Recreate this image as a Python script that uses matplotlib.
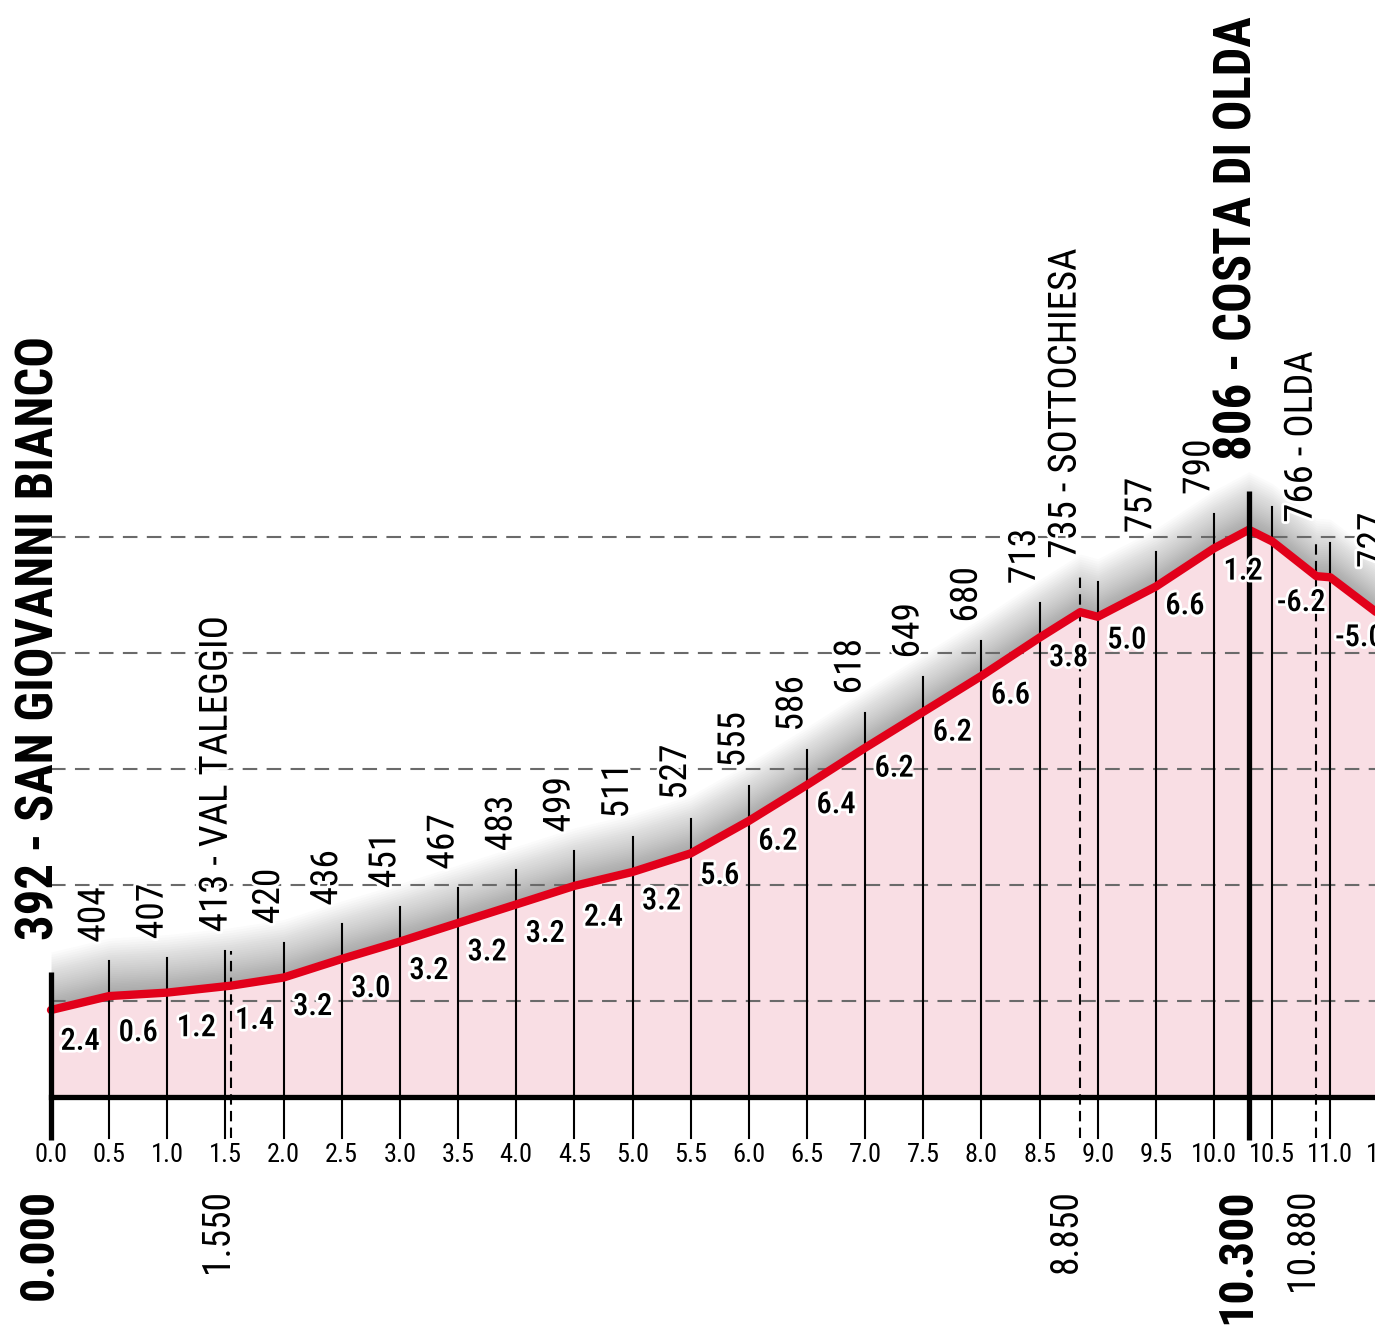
import matplotlib
matplotlib.use("Agg")
import matplotlib.pyplot as plt
import matplotlib.patheffects as pe
import numpy as np

# profile points (km, m)
dist = [0.0, 0.5, 1.0, 1.55, 2.0, 2.5, 3.0, 3.5, 4.0, 4.5, 5.0, 5.5, 6.0, 6.5,
        7.0, 7.5, 8.0, 8.5, 8.85, 9.0, 9.5, 10.0, 10.3, 10.5, 10.88, 11.0, 11.5]
elev = [392, 404, 407, 413, 420, 436, 451, 467, 483, 499, 511, 527, 555, 586,
        618, 649, 680, 713, 735, 731, 757, 790, 806, 796, 766, 765, 727]

# kilometre marks with their printed altitude ('' = not printed)
marks = [0.5, 1.0, 1.5, 2.0, 2.5, 3.0, 3.5, 4.0, 4.5, 5.0, 5.5, 6.0, 6.5, 7.0,
         7.5, 8.0, 8.5, 9.0, 9.5, 10.0, 10.5, 11.0, 11.5]
mark_labels = ["404", "407", "", "420", "436", "451", "467", "483", "499", "511",
               "527", "555", "586", "618", "649", "680", "713", "", "757", "790",
               "", "", "727"]

# gradients per half kilometre
slopes = [2.4, 0.6, 1.2, 1.4, 3.2, 3.0, 3.2, 3.2, 3.2, 2.4, 3.2, 5.6, 6.2, 6.4,
          6.2, 6.2, 6.6, 3.8, 5.0, 6.6, 1.2, -6.2, -5.0]

# named places
places_km = [0.0, 1.55, 8.85, 10.3, 10.88]
places_alt = [392, 413, 735, 806, 766]
places_name = ["SAN GIOVANNI BIANCO", "VAL TALEGGIO", "SOTTOCHIESA",
               "COSTA DI OLDA", "OLDA"]
places_dist = ["0.000", "1.550", "8.850", "10.300", "10.880"]
places_main = [True, False, False, True, False]

grid_alt = [400, 500, 600, 700, 800]
tick_km = np.arange(0, 11.51, 0.5)

FONT = ["Roboto Condensed", "Barlow Condensed", "Archivo Narrow", "PT Sans Narrow",
        "Saira SemiCondensed", "DejaVu Sans"]
BASE = 317
halo = [pe.withStroke(linewidth=4, foreground="white")]

fig = plt.figure(figsize=(13.75, 13.26), dpi=100)
ax = fig.add_axes([0, 0, 1, 1])
ax.set_xlim(-51 / 116.3, (1375 - 51) / 116.3)
ax.set_ylim(BASE - 229 / 1.16, BASE + 1097 / 1.16)
ax.axis("off")

d = np.array(dist)
e = np.array(elev, dtype=float)
alt_at = lambda k: np.interp(k, d, e)

# soft grey shadow above the profile
for k in range(30):
    off = 2 + 48 * (k / 29) ** 1.3
    ax.fill_between(d, e, e + off, color="#606060", alpha=0.024, lw=0, zorder=1)

ax.fill_between(d, BASE, e, color="#f9dee4", lw=0, zorder=2)

for g in grid_alt:
    ax.plot([0, 12], [g, g], color="#6a6a6a", lw=1.5, dashes=(7, 4.5), zorder=3)

# km lines
for k in marks:
    ax.plot([k, k], [BASE - 35, alt_at(k) + 30], color="black", lw=1.5, zorder=4)

for k, main in zip(places_km, places_main):
    top = alt_at(k) + (33 if main else 30)
    if main:
        ax.plot([k, k], [BASE - 37, top], color="black", lw=3.8, zorder=6,
                solid_capstyle="butt")
    else:
        ax.plot([k, k], [BASE - 35, top], color="black", lw=1.5,
                dashes=(5, 3), zorder=4)

ax.plot(d, e, color="#e2001a", lw=6, zorder=5, solid_capstyle="round")
ax.plot([0, 12], [BASE, BASE], color="black", lw=3.8, zorder=6)

# altitude labels
for k, lab in zip(marks, mark_labels):
    if lab:
        ax.text(k - 0.13, alt_at(k) + 46, lab, rotation=90, ha="center",
                va="bottom", fontsize=27, family=FONT, zorder=7, path_effects=halo)

for k, a, name, dl, main in zip(places_km, places_alt, places_name,
                                places_dist, places_main):
    if main:
        ax.text(k - 0.1, a + 60, f"{a} - {name}", rotation=90, ha="center",
                va="bottom", fontsize=36.5, fontweight="bold", family=FONT, zorder=7)
        ax.text(k - 0.1, BASE - 79, dl, rotation=90, ha="center", va="top",
                fontsize=34.5, fontweight="bold", family=FONT, zorder=7)
    else:
        ax.text(k - 0.13, a + 46, f"{a} - {name}", rotation=90, ha="center",
                va="bottom", fontsize=28, family=FONT, zorder=7, path_effects=halo)
        ax.text(k - 0.12, BASE - 79, dl, rotation=90, ha="center", va="top",
                fontsize=27, family=FONT, zorder=7)

# gradient labels
for i, s in enumerate(slopes):
    mid = (marks[i] - 0.25)
    ax.text(mid, alt_at(mid) - 33, f"{s:.1f}", ha="center", va="center",
            fontsize=22, family=FONT, fontweight="medium", zorder=7,
            path_effects=halo)

for k in tick_km:
    ax.text(k, BASE - 50, f"{k:.1f}", ha="center", va="center", fontsize=19,
            family=FONT, zorder=7)

fig.savefig("out.png", dpi=100)
